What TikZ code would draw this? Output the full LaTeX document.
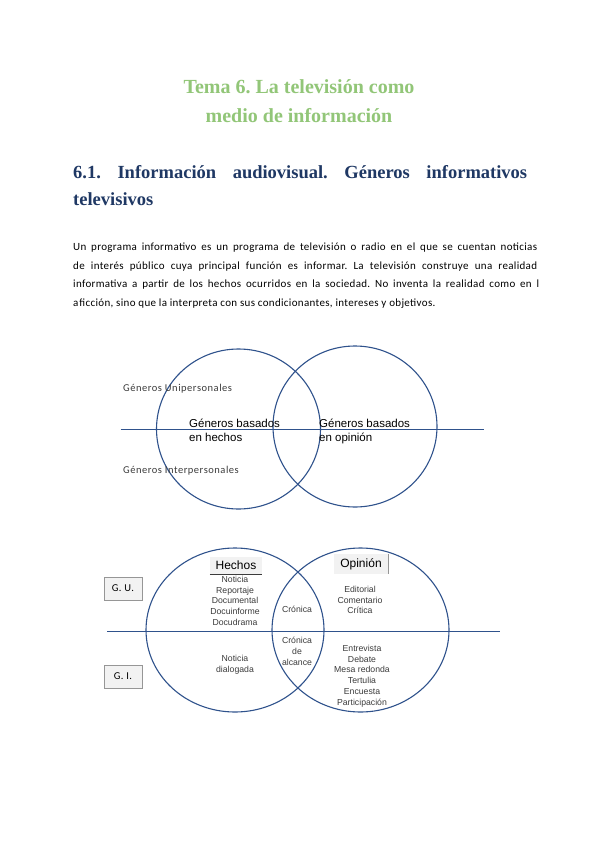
\documentclass[tikz,border=0pt]{standalone}
\usepackage{fontspec}
\setmainfont{Liberation Serif}
\newfontfamily\arialf{Liberation Sans}
\newfontfamily\calib{Carlito}
\definecolor{titlegreen}{RGB}{146,198,120}
\definecolor{headblue}{RGB}{31,56,100}
\definecolor{circblue}{RGB}{47,82,140}
\definecolor{dgray}{RGB}{60,60,60}
\definecolor{boxfill}{RGB}{242,242,242}
\definecolor{boxline}{RGB}{150,150,150}
\frenchspacing
\begin{document}
\begin{tikzpicture}[x=1pt,y=-1pt,
  titletext/.style={inner sep=0pt,anchor=base,text=titlegreen,font=\fontsize{20}{24}\selectfont\bfseries},
  headtext/.style={inner sep=0pt,anchor=base west,text=headblue,font=\fontsize{18.5}{22}\selectfont\bfseries},
  paratext/.style={inner sep=0pt,anchor=base west,text=black,font=\calib\fontsize{11}{13}\selectfont\addfontfeature{LetterSpace=3}},
  smalllab/.style={inner sep=0pt,anchor=base west,text=dgray,font=\calib\fontsize{10.5}{12}\selectfont\addfontfeature{LetterSpace=5}},
  biglab/.style={inner sep=0pt,anchor=base west,text=black,font=\arialf\fontsize{11.5}{14}\selectfont},
  listtext/.style={inner sep=0pt,anchor=base,text=dgray,font=\arialf\fontsize{8.7}{10.7}\selectfont,align=center},
  circ/.style={draw=circblue,line width=1.1pt},
  sepline/.style={draw=circblue,line width=1.1pt},
  tagbox/.style={fill=boxfill,inner sep=0pt,text=black},
]
\useasboundingbox (0,0) rectangle (600,848);
\fill[white] (0,0) rectangle (600,848);

% titles
\node[titletext] (t1) at (299,93.5) {Tema 6. La televisión como};
\node[titletext] (t2) at (299,123) {medio de información};

\node[headtext] (h1) at (73,178) {\makebox[454pt][s]{6.1. Información audiovisual. Géneros informativos}};
\node[headtext] (h2) at (73,205) {televisivos};

% paragraph
\node[paratext] (p1) at (73,250) {\makebox[464pt][s]{Un programa informativo es un programa de televisión o radio en el que se cuentan noticias}};
\node[paratext] (p2) at (73,269) {\makebox[464pt][s]{de interés público cuya principal función es informar. La televisión construye una realidad}};
\node[paratext] (p3) at (73,287.7) {\makebox[466pt][s]{informativa a partir de los hechos ocurridos en la sociedad. No inventa la realidad como en l}};
\node[paratext] (p4) at (73,306) {a\kern1pt ficción, sino que la interpreta con sus condicionantes, intereses y objetivos.};

% diagram 1
\draw[circ] (238.5,429) ellipse [x radius=82pt, y radius=80pt];
\draw[circ] (355,426.5) ellipse [x radius=82pt, y radius=80.5pt];
\coordinate (l1a) at (120.5,429.5);
\coordinate (l1b) at (484,429.5);
\draw[sepline] (l1a) -- (l1b);
\node[smalllab] (gu1) at (123,391.5) {Géneros Unipersonales};
\node[smalllab] (gi1) at (123,473) {Géneros Interpersonales};
\node[biglab] (bh1) at (189,427) {Géneros basados};
\node[biglab] (bh2) at (189,441) {en hechos};
\node[biglab] (bo1) at (319,427) {Géneros basados};
\node[biglab] (bo2) at (319,441) {en opinión};

% diagram 2
\draw[circ] (235,630) ellipse [x radius=89pt, y radius=82pt];
\draw[circ] (360.5,630) ellipse [x radius=88.5pt, y radius=82pt];
\coordinate (l2a) at (107,631.5);
\coordinate (l2b) at (500,631.5);
\draw[sepline] (l2a) -- (l2b);

\node[tagbox,minimum width=52pt,minimum height=18pt,font=\arialf\fontsize{12}{14}\selectfont] (hechos) at (236,565.5) {Hechos};
\draw[draw=dgray,line width=0.8pt] (hechos.south west) -- (hechos.south east);
\node[tagbox,minimum width=54pt,minimum height=20pt,font=\arialf\fontsize{12}{14}\selectfont] (opinion) at (361,564) {Opinión};
\draw[draw=boxline,line width=0.6pt] (opinion.north east) -- (opinion.south east);
\node[tagbox,draw=boxline,line width=0.6pt,minimum width=38pt,minimum height=23pt,font=\calib\fontsize{10.5}{12}\selectfont\addfontfeature{LetterSpace=4}] (gu) at (123,588.5) {G. U.};
\node[tagbox,draw=boxline,line width=0.6pt,minimum width=38pt,minimum height=23pt,font=\calib\fontsize{10.5}{12}\selectfont\addfontfeature{LetterSpace=4}] (gi) at (123,676.5) {G. I.};

\node[listtext,anchor=north] (hlist) at (235,576) {Noticia\\Reportaje\\Documental\\Docuinforme\\Docudrama};
\node[listtext,anchor=north] (cron) at (297,606) {Crónica};
\node[listtext,anchor=north] (cronal) at (297,637) {Crónica\\de\\alcance};
\node[listtext,anchor=north] (notdia) at (235,655) {Noticia\\dialogada};
\node[listtext,anchor=north] (olist) at (360,586) {Editorial\\Comentario\\Crítica};
\node[listtext,anchor=north] (ilist) at (362,645) {Entrevista\\Debate\\Mesa redonda\\Tertulia\\Encuesta\\Participación};
\end{tikzpicture}
\end{document}
